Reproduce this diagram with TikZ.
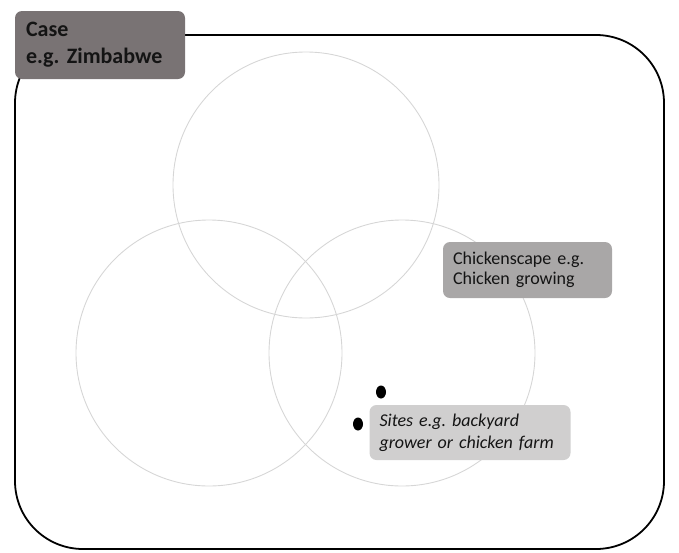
\documentclass[tikz,border=0pt]{standalone}
\usepackage{fontspec}
\setmainfont{Carlito}
\usepackage{xcolor}
\usepackage{tikz}
\usetikzlibrary{positioning,shapes.geometric}
\definecolor{casegray}{RGB}{121,115,116}
\definecolor{scapegray}{RGB}{169,167,167}
\definecolor{sitegray}{RGB}{208,207,207}
\definecolor{ringgray}{RGB}{214,214,214}
\frenchspacing

\begin{document}
\begin{tikzpicture}[x=1pt,y=-1pt,
      ring/.style={draw=ringgray,line width=0.9pt},
      tag/.style={rounded corners=7pt,inner xsep=10pt,inner ysep=0pt,align=left,text=black!92},
      dot/.style={fill=black,ellipse,inner sep=0pt,minimum width=10pt,minimum height=13pt}]
    \useasboundingbox (0,0) rectangle (679,552);
    \draw[line width=1.8pt,rounded corners=68pt] (15,35) rectangle (664,549);
    \draw[ring] (306,185) circle (133);
    \draw[ring] (209,353) circle (133);
    \draw[ring] (402,353) circle (133);
    \node[tag,fill=casegray,text width=148pt,minimum height=68pt,inner xsep=11pt,
          font=\fontsize{22}{27}\selectfont\bfseries] (case) at (100,45)
          {Case\\e.g. Zimbabwe};
    \node[tag,fill=scapegray,text width=149pt,minimum height=56pt,
          font=\fontsize{18}{20}\selectfont] (scape) at (527.5,270)
          {Chickenscape e.g.\\Chicken growing};
    \node[tag,fill=sitegray,text width=181pt,minimum height=55pt,
          font=\fontsize{18}{22}\selectfont\itshape] (sites) at (470,432.5)
          {Sites e.g. backyard\\grower or chicken farm};
    \node[dot] (siteA) at (381,392) {};
    \node[dot] (siteB) at (358,424) {};
  \end{tikzpicture}
\end{document}
